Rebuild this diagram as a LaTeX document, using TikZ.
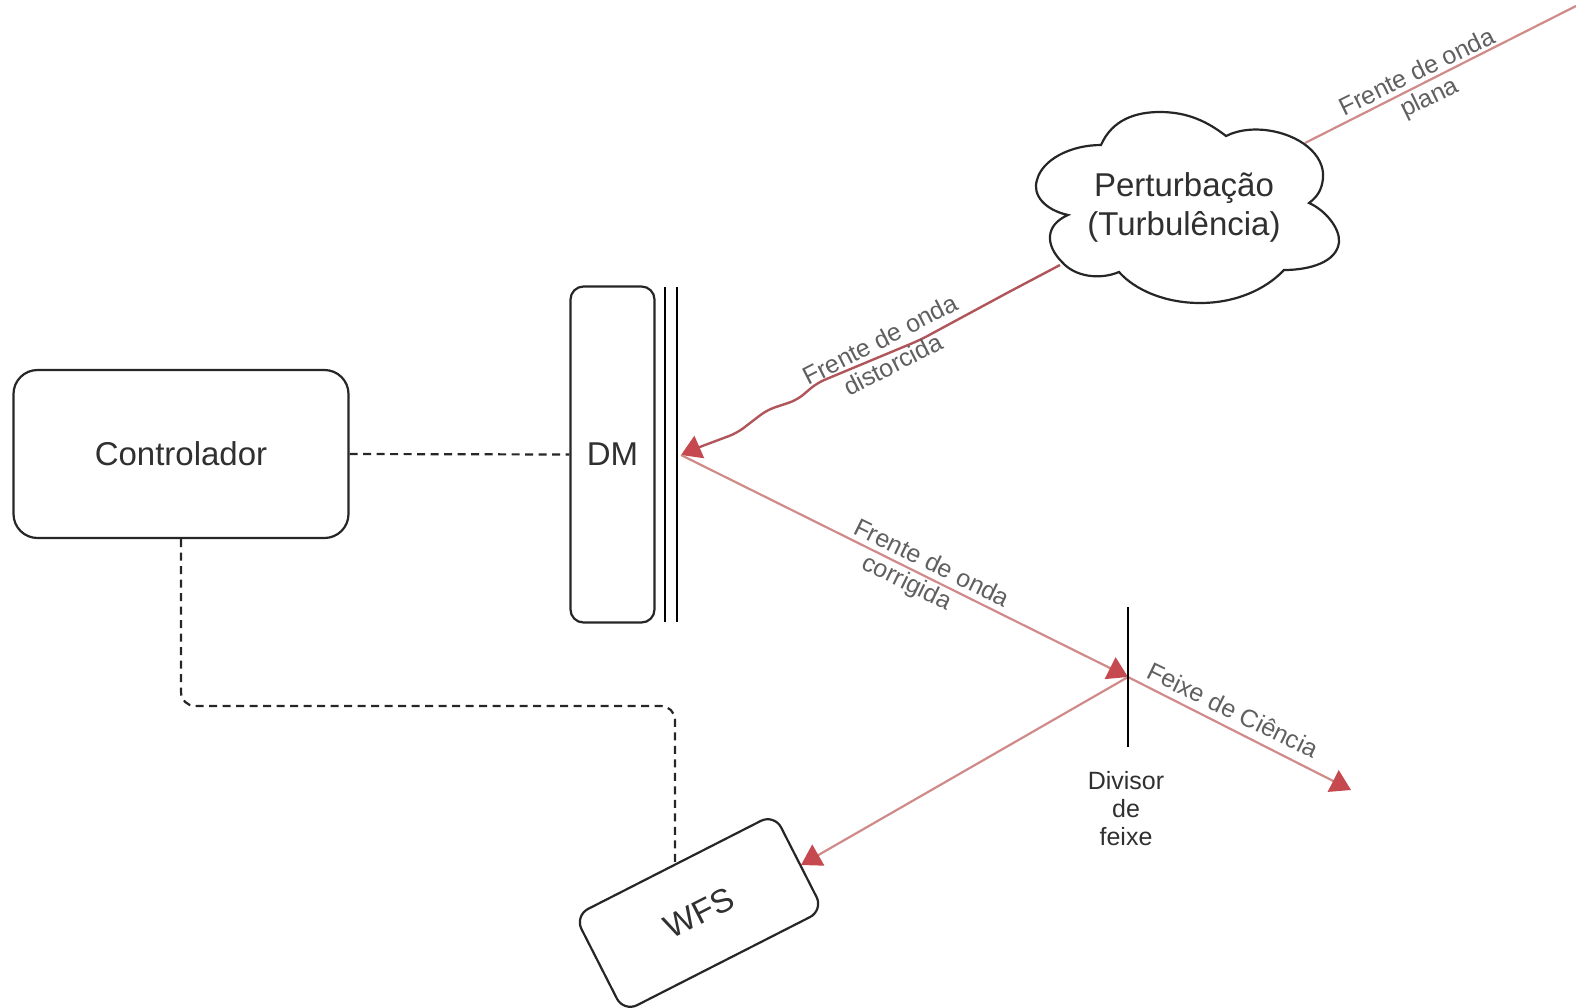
\documentclass[tikz,border=0pt]{standalone}
\usepackage{fontspec}
\setmainfont{Liberation Sans}
\usetikzlibrary{arrows.meta}
\definecolor{beam}{HTML}{D08A8A}
\definecolor{beamdark}{HTML}{B0555A}
\definecolor{headred}{HTML}{C5494F}
\definecolor{labelgray}{HTML}{606060}
\definecolor{textgray}{HTML}{303030}
\tikzset{
  x=1pt,y=-1pt,
  box/.style={draw=black!85,line width=2.2pt,fill=white,text=textgray,inner sep=0pt,font=\fontsize{33}{38}\selectfont},
  beamline/.style={draw=beam,line width=2.2pt,-{Triangle[length=20pt,width=24pt,fill=headred,color=headred]}},
  beamplain/.style={draw=beam,line width=2.2pt},
  beamrough/.style={draw=beamdark,line width=2.4pt,-{Triangle[length=20pt,width=24pt,fill=headred,color=headred]}},
  ctrl/.style={draw=black!85,line width=2.2pt,dash pattern=on 8pt off 5.5pt},
  plate/.style={draw=black,line width=2.2pt},
  beamlabel/.style={text=labelgray,font=\fontsize{25}{28}\selectfont,align=center,inner sep=0pt},
}
\begin{document}
\begin{tikzpicture}
\useasboundingbox (0,0) rectangle (1576,1007);
% anchor points
\coordinate (infty) at (1576,6);
\coordinate (cloudNE) at (1305,143);
\coordinate (cloudSW) at (1060,265);
\coordinate (mirror) at (681,455);
\coordinate (split) at (1128,677);
\coordinate (sciend) at (1351,790);
\coordinate (platetop1) at (665,287);
\coordinate (platebot1) at (665,622);
\coordinate (platetop2) at (677,287);
\coordinate (platebot2) at (677,622);
\coordinate (splittop) at (1128,607);
\coordinate (splitbot) at (1128,747);
\coordinate (wfsin) at (801,865);
\coordinate (wfsctl) at (675,866);

% beams under the cloud
\draw[beamplain] (infty) -- (cloudNE);
\draw[beamrough,rounded corners=8pt] (cloudSW) -- (1007,293) -- (920,340) -- (817,383) -- (797,400) -- (767,410) -- (737,433) -- (697,448) -- (mirror);
\draw[beamline] (mirror) -- (split);
\draw[beamline] (split) -- (sciend);
\draw[beamline] (split) -- (wfsin);

% cloud
\draw[draw=black!85,line width=2.2pt,fill=white]
  (1101,145) .. controls (1112,120) and (1135,112) .. (1160,112)
  .. controls (1188,112) and (1208,122) .. (1226,136)
  .. controls (1240,129) and (1255,129) .. (1265,130)
  .. controls (1300,134) and (1325,155) .. (1323,178)
  .. controls (1322,190) and (1317,197) .. (1309,203)
  .. controls (1325,210) and (1340,228) .. (1339,242)
  .. controls (1337,262) and (1310,270) .. (1284,270)
  .. controls (1265,290) and (1235,303) .. (1200,303)
  .. controls (1165,303) and (1135,290) .. (1119,272)
  .. controls (1100,280) and (1075,277) .. (1062,262)
  .. controls (1045,245) and (1045,225) .. (1068,215)
  .. controls (1045,210) and (1032,195) .. (1037,180)
  .. controls (1042,160) and (1070,145) .. (1101,145) -- cycle;
\node[text=textgray,font=\fontsize{33}{39}\selectfont,align=center,inner sep=0pt] (cloud) at (1184,207) {Perturbação\\(Turbulência)};

% boxes
\node[box,rounded corners=24pt,minimum width=335pt,minimum height=168pt] (ctl) at (181,454) {Controlador};
\node[box,rounded corners=13pt,minimum width=84pt,minimum height=336pt] (dm) at (612.5,454.5) {DM};
\node[box,rounded corners=15pt,minimum width=224pt,minimum height=108pt,rotate=27] (wfs) at (699,913) {WFS};

% plates
\draw[plate] (platetop1) -- (platebot1);
\draw[plate] (platetop2) -- (platebot2);
\draw[plate] (splittop) -- (splitbot);

% control links
\draw[ctrl] (ctl.east) -- (dm.west);
\draw[ctrl,rounded corners=14pt] (ctl.south) -- (181,706) -- (675,706) -- (wfsctl);

% labels
\node[beamlabel,rotate=26] (lplana) at (1424,86) {Frente de onda\\plana};
\node[beamlabel,rotate=27] (ldist) at (886.5,352) {Frente de onda\\distorcida};
\node[beamlabel,rotate=-26,align=left] (lcorr) at (925,577) {Frente de onda\\\hspace*{23pt}corrigida};
\node[beamlabel,rotate=-26] (lsci) at (1233,710) {Feixe de Ciência};
\node[text=textgray,font=\fontsize{25}{28}\selectfont,align=center,inner sep=0pt] (ldiv) at (1126,809) {Divisor\\de\\feixe};
\end{tikzpicture}
\end{document}
